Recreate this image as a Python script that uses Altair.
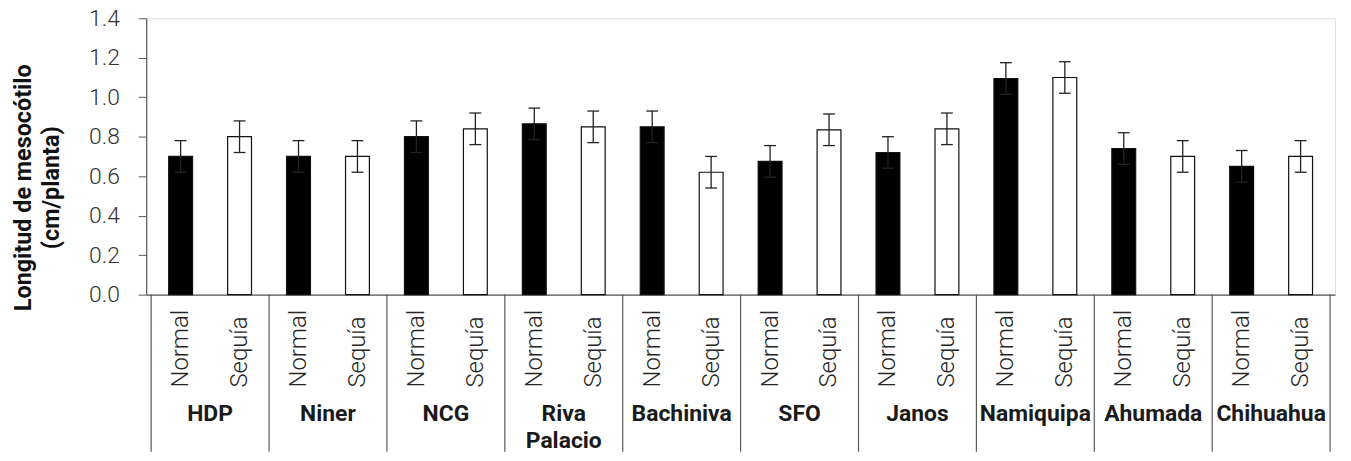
import altair as alt
import pandas as pd

groups = ["HDP", "Niner", "NCG", "Riva\nPalacio", "Bachiniva", "SFO",
          "Janos", "Namiquipa", "Ahumada", "Chihuahua"]
treatments = ["Normal", "Sequía"]
normal = [0.70, 0.70, 0.80, 0.865, 0.85, 0.675, 0.72, 1.095, 0.74, 0.65]
sequia = [0.80, 0.70, 0.84, 0.85, 0.62, 0.835, 0.84, 1.10, 0.70, 0.70]
normal_err = [0.08, 0.08, 0.08, 0.08, 0.08, 0.08, 0.08, 0.08, 0.08, 0.08]
sequia_err = [0.08, 0.08, 0.08, 0.08, 0.08, 0.08, 0.08, 0.08, 0.08, 0.08]
y_ticks = [0.0, 0.2, 0.4, 0.6, 0.8, 1.0, 1.2, 1.4]
y_title = ["Longitud de mesocótilo", "(cm/planta)"]

rows = []
for g, name in enumerate(groups):
    for t, (vals, errs) in enumerate([(normal, normal_err), (sequia, sequia_err)]):
        rows.append({"group": name, "treat": treatments[t],
                     "xpos": 2 * g + t + 0.5, "value": vals[g], "err": errs[g]})
bars_df = pd.DataFrame(rows)
groups_df = pd.DataFrame({"label": groups, "xpos": [2 * g + 1 for g in range(len(groups))]})
sep_df = pd.DataFrame({"xpos": [2 * g for g in range(len(groups) + 1)]})

AX = "#595959"
x_scale = alt.Scale(domain=[0, 2 * len(groups)], nice=False, zero=False)
y_scale = alt.Scale(domain=[0, 1.4], nice=False)

x_axis = alt.Axis(values=[i + 0.5 for i in range(2 * len(groups))],
                  labelExpr="(datum.value % 2) < 1 ? 'Normal' : 'Sequía'",
                  labelAngle=270, labelAlign="left", labelBaseline="middle",
                  labelPadding=93, labelFont="Roboto", labelFontWeight=300,
                  labelFontSize=24, labelColor="#262626", labelOverlap=False,
                  labelFlush=False, labelBound=False,
                  ticks=False, grid=False, domainColor=AX, domainWidth=1.2,
                  title=None)
y_axis = alt.Axis(values=y_ticks, format=".1f", grid=False,
                  domainColor=AX, domainWidth=1.2, tickColor=AX, tickSize=8,
                  labelPadding=19, labelFont="Roboto", labelFontWeight=300,
                  labelFontSize=23, labelColor="#333333",
                  title=y_title, titleFont="Roboto", titleFontWeight="bold",
                  titleFontSize=23.5, titleColor="#111111", titleAngle=270,
                  titleAlign="center", titleBaseline="bottom",
                  titleX=-111, titleY=170, titleLineHeight=28)


def X():
    return alt.X("xpos:Q", scale=x_scale, axis=x_axis)


def Y(field):
    return alt.Y(field, scale=y_scale, axis=y_axis)


base = alt.Chart(bars_df).transform_calculate(
    lo="datum.value - datum.err",
    hi="datum.value + datum.err",
    cl="datum.xpos - 0.1",
    cr="datum.xpos + 0.1",
)

bars = base.mark_bar(size=24, orient="vertical", stroke="#111111",
                     strokeWidth=1.2).encode(
    x=X(), y=Y("value:Q"),
    fill=alt.Fill("treat:N", scale=alt.Scale(domain=treatments,
                                             range=["#000000", "#ffffff"]),
                  legend=None),
)

err_v = base.mark_rule(color="#222222", strokeWidth=1.3).encode(
    x=X(), y=Y("lo:Q"), y2="hi:Q")
cap_hi = base.mark_rule(color="#222222", strokeWidth=1.3).encode(
    x=alt.X("cl:Q", scale=x_scale, axis=x_axis), x2="cr:Q", y=Y("hi:Q"))
cap_lo = base.mark_rule(color="#222222", strokeWidth=1.3).encode(
    x=alt.X("cl:Q", scale=x_scale, axis=x_axis), x2="cr:Q", y=Y("lo:Q"))

seps = alt.Chart(sep_df).mark_rule(color=AX, strokeWidth=1.2).encode(
    x=X(), y=alt.value(278), y2=alt.value(436))

labels = alt.Chart(groups_df).mark_text(
    font="Roboto", fontSize=23, fontWeight="bold", lineBreak="\n",
    lineHeight=27, baseline="alphabetic", align="center",
    color="#1a1a1a").encode(
    x=X(), y=alt.value(405), text="label:N")

chart = alt.layer(bars, err_v, cap_hi, cap_lo, seps, labels).properties(
    width=1196, height=278,
    autosize=alt.AutoSizeParams(type="none"),
    padding={"left": 139, "top": 9, "right": 8, "bottom": 158},
).configure_view(stroke=None).configure(background="white")

chart.save("out.html", embed_options={"renderer": "svg", "actions": False})
